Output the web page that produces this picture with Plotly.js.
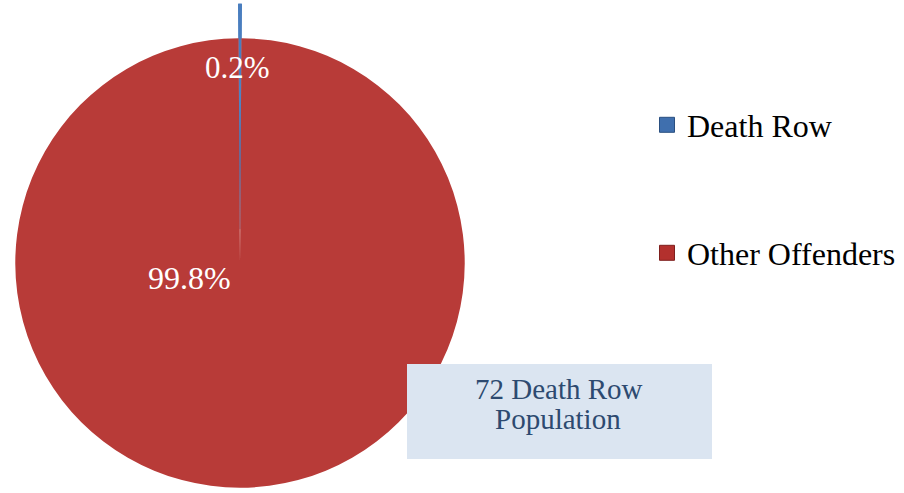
<!DOCTYPE html>
<html>
<head>
<meta charset="utf-8">
<script src="https://cdn.plot.ly/plotly-3.0.1.min.js"></script>
<style>
  html, body { margin: 0; padding: 0; background: #ffffff; overflow: hidden; width: 904px; height: 493px; }
  #chart { position: absolute; left: -20px; top: 0; width: 944px; height: 530px; }
</style>
</head>
<body>
<div id="chart"></div>
<script>
// ---- data ----
const categories = ["Death Row", "Other Offenders"];
const populations = [72, 35928];
const sliceColors = ["#4a7ebf", "#b83b38"];
const legendColors = ["#3f6fae", "#b3302d"];
const pulls = [0.1525, 0];
const boxLine2 = "Population";

// ---- derived text ----
const total = populations.reduce((a, b) => a + b, 0);
const pctText = populations.map(v => (v / total * 100).toFixed(1) + "%");

const W = 944, H = 530;
const px = sx => (sx + 20) / W;
const py = sy => 1 - sy / H;

const serif = "Liberation Serif, Times New Roman, serif";

const pie = {
  type: "pie",
  labels: categories,
  values: populations,
  sort: false,
  direction: "clockwise",
  rotation: -(populations[0] / total * 360) / 2,
  pull: pulls,
  marker: { colors: sliceColors, line: { width: [1.2, 0], color: [sliceColors[0], sliceColors[1]] } },
  textinfo: "none",
  hoverinfo: "label+percent",
  showlegend: false,
  domain: { x: [0 / W, 520 / W], y: [8 / H, 526 / H] }
};

const legendTraces = categories.map((c, i) => ({
  type: "scatter",
  mode: "markers",
  x: [null], y: [null],
  name: c,
  legend: i === 0 ? "legend" : "legend2",
  marker: { symbol: "square", size: 15, color: legendColors[i],
            line: { color: i === 0 ? "#2a4f80" : "#7e1f1d", width: 1 } },
  showlegend: true,
  hoverinfo: "skip"
}));

const legendBase = {
  xanchor: "left", yanchor: "middle",
  bgcolor: "rgba(0,0,0,0)", borderwidth: 0,
  font: { family: serif, size: 32, color: "#000000" }
};

const layout = {
  width: W, height: H,
  margin: { l: 0, r: 0, t: 0, b: 0 },
  paper_bgcolor: "#ffffff",
  plot_bgcolor: "rgba(0,0,0,0)",
  xaxis: { visible: false },
  yaxis: { visible: false },
  showlegend: true,
  legend: Object.assign({}, legendBase, { x: px(647), y: py(125) }),
  legend2: Object.assign({}, legendBase, { x: px(647), y: py(253) }),
  shapes: [{
    type: "rect", xref: "paper", yref: "paper",
    x0: px(407), x1: px(712), y0: py(459), y1: py(364),
    fillcolor: "#dbe5f1", line: { width: 0 }, layer: "above"
  }],
  annotations: [
    { text: pctText[0], x: px(237), y: py(68), xref: "paper", yref: "paper",
      showarrow: false, xanchor: "center", yanchor: "middle",
      font: { family: serif, size: 31, color: "#ffffff" } },
    { text: pctText[1], x: px(189), y: py(278), xref: "paper", yref: "paper",
      showarrow: false, xanchor: "center", yanchor: "middle",
      font: { family: serif, size: 32, color: "#ffffff" } },
    { text: populations[0] + " " + categories[0], x: px(559), y: py(389), xref: "paper", yref: "paper",
      showarrow: false, xanchor: "center", yanchor: "middle",
      font: { family: serif, size: 29, color: "#2d4a70" } },
    { text: boxLine2, x: px(558), y: py(419), xref: "paper", yref: "paper",
      showarrow: false, xanchor: "center", yanchor: "middle",
      font: { family: serif, size: 29, color: "#2d4a70" } }
  ]
};

Plotly.newPlot("chart", [pie].concat(legendTraces), layout, { displayModeBar: false, staticPlot: true });
</script>
</body>
</html>
